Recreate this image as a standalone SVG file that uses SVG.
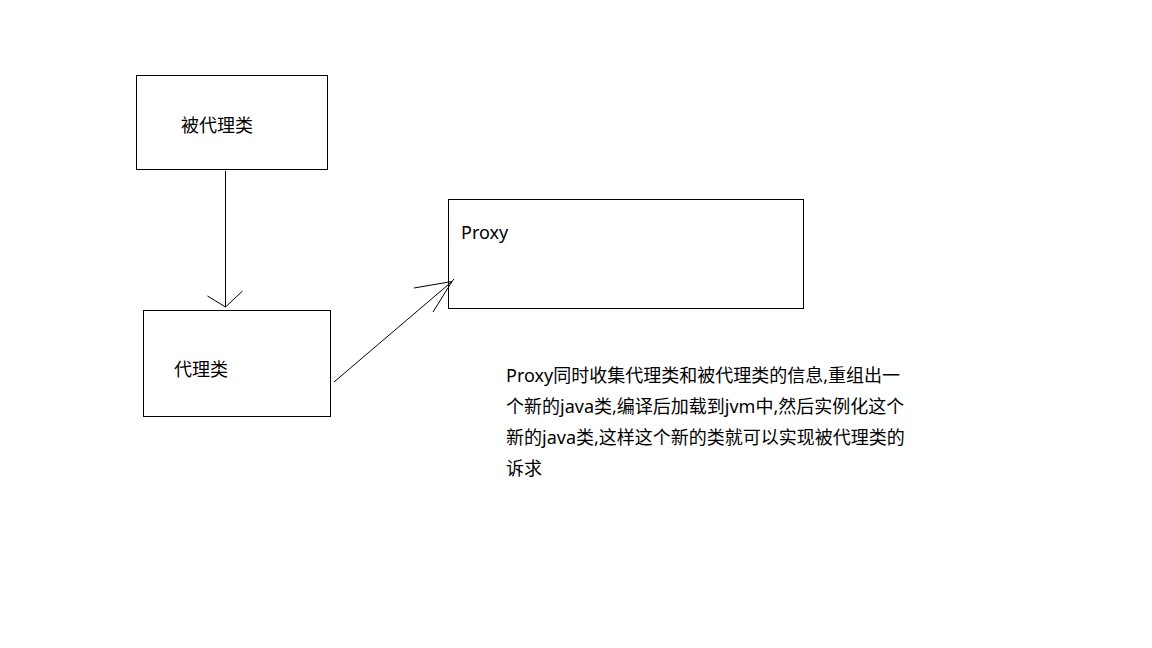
<svg xmlns="http://www.w3.org/2000/svg" width="1152" height="648" viewBox="0 0 1152 648">
<style>
.box{fill:#fff;stroke:#000;stroke-width:1}
.ln{fill:none;stroke:#000;stroke-width:1}
text{font-family:"Noto Sans","Noto Sans CJK SC",sans-serif;font-size:18px;fill:#000}
</style>
<rect width="1152" height="648" fill="#fff"/>
<g id="node-beidaili">
<rect class="box" x="136.5" y="75.5" width="191" height="94"/>
<text x="181" y="132">被代理类</text>
</g>
<g id="node-daili">
<rect class="box" x="143.5" y="310.5" width="187" height="106"/>
<text x="174" y="376">代理类</text>
</g>
<g id="node-proxy">
<rect class="box" x="448.5" y="199.5" width="355" height="109"/>
<text x="461" y="239">Proxy</text>
</g>
<g id="connectors">
<line class="ln" x1="225.5" y1="171" x2="225.5" y2="307"/>
<polyline class="ln" points="207.5,296 225.5,307 242.5,291"/>
<line class="ln" x1="334" y1="382" x2="452" y2="281.5"/>
<polyline class="ln" points="414,288 452,281.5 433,312"/>
<line class="ln" x1="452" y1="281.5" x2="454" y2="279"/>
</g>
<g id="note">
<text x="506" y="382">Proxy同时收集代理类和被代理类的信息,重组出一</text>
<text x="506" y="413">个新的java类,编译后加载到jvm中,然后实例化这个</text>
<text x="506" y="444">新的java类,这样这个新的类就可以实现被代理类的</text>
<text x="506" y="475">诉求</text>
</g>
</svg>
